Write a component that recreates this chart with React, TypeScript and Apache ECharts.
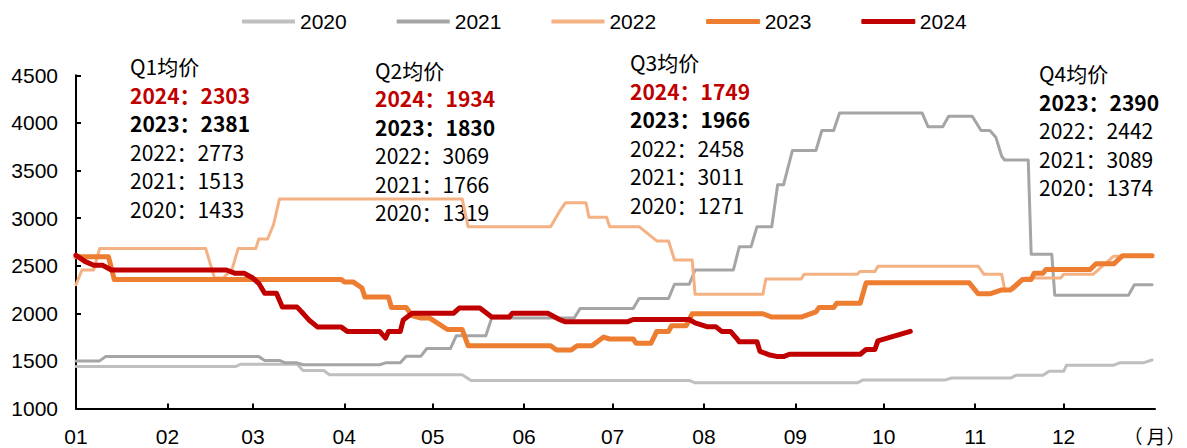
import React, { useEffect, useRef } from "react";
import * as echarts from "echarts";

// Day-of-year (leap-year calendar, 0 = Jan 1) at which each month starts
const MONTH_STARTS = [0, 31, 60, 91, 121, 152, 182, 213, 244, 274, 305, 335];
const MONTH_LABELS = ["01", "02", "03", "04", "05", "06", "07", "08", "09", "10", "11", "12"];
const YEAR_DAYS = 366;
const UNIT_CHARS = ["（", "月", "）"];

const YEARS = ["2020", "2021", "2022", "2023", "2024"];
const COLORS = ["#BFBFBF", "#A5A5A5", "#F4B183", "#ED7D31", "#C00000"];
const WIDTHS = [3, 3, 3, 5, 5];

// [day of year, price]
const s2020: [number, number][] = [
  [0, 1440], [54, 1440], [56, 1465], [75, 1465], [77, 1400], [84, 1400], [86, 1355], [131, 1355],
  [134, 1295], [208, 1295], [210, 1270], [265, 1270], [267, 1300], [295, 1300], [297, 1320],
  [317, 1320], [319, 1350], [328, 1350], [330, 1390], [335, 1390], [336, 1455], [352, 1455],
  [354, 1480], [362, 1480], [365, 1510],
];
const s2021: [number, number][] = [
  [0, 1500], [8, 1500], [10, 1545], [62, 1545], [64, 1505], [69, 1505], [71, 1480], [75, 1480],
  [77, 1460], [103, 1460], [105, 1480], [110, 1480], [112, 1550], [117, 1550], [119, 1630],
  [127, 1630], [129, 1765], [139, 1765], [141, 1950], [169, 1950], [171, 2050], [189, 2050],
  [191, 2155], [201, 2155], [203, 2305], [208, 2305], [210, 2455], [223, 2455], [225, 2700],
  [229, 2700], [231, 2910], [236, 2910], [238, 3350], [240, 3350], [243, 3710], [251, 3710],
  [253, 3920], [257, 3920], [259, 4105], [287, 4105], [289, 3960], [294, 3960], [296, 4070],
  [304, 4070], [307, 3920], [310, 3920], [312, 3850], [314, 3650], [315, 3610], [323, 3610],
  [324, 2620], [331, 2620], [332, 2190], [357, 2190], [359, 2300], [365, 2300],
];
const s2022: [number, number][] = [
  [0, 2300], [2, 2455], [6, 2455], [8, 2680], [44, 2680], [47, 2370], [50, 2370], [53, 2470],
  [55, 2680], [61, 2680], [62, 2780], [65, 2780], [67, 2930], [69, 3200], [131, 3200], [133, 2910],
  [161, 2910], [164, 3070], [166, 3160], [173, 3160], [174, 3010], [180, 3010], [181, 2910],
  [191, 2910], [195, 2810], [197, 2760], [201, 2760], [203, 2560], [209, 2560], [210, 2200],
  [233, 2200], [234, 2360], [246, 2360], [247, 2410], [265, 2410], [266, 2440], [271, 2440],
  [272, 2495], [306, 2495], [308, 2410], [314, 2410], [315, 2250], [318, 2250], [322, 2370],
  [334, 2370], [335, 2410], [345, 2410], [352, 2600], [365, 2600],
];
const s2023: [number, number][] = [
  [0, 2595], [11, 2595], [13, 2355], [90, 2355], [91, 2330], [94, 2330], [97, 2265], [98, 2170],
  [106, 2170], [107, 2060], [112, 2060], [114, 1975], [117, 1950], [120, 1950], [126, 1830],
  [131, 1830], [133, 1660], [161, 1660], [163, 1615], [168, 1615], [170, 1660], [175, 1660],
  [179, 1750], [181, 1730], [189, 1730], [190, 1685], [195, 1685], [197, 1810], [201, 1810],
  [202, 1870], [207, 1870], [209, 1995], [233, 1995], [236, 1960], [246, 1960], [251, 2015],
  [252, 2060], [257, 2060], [258, 2105], [266, 2105], [268, 2320], [303, 2320], [306, 2205],
  [310, 2205], [314, 2245], [317, 2245], [321, 2355], [324, 2355], [325, 2420], [328, 2420],
  [329, 2460], [344, 2460], [346, 2520], [352, 2520], [355, 2605], [365, 2605],
];
const s2024: [number, number][] = [
  [0, 2610], [3, 2545], [6, 2505], [9, 2505], [12, 2455], [51, 2455], [54, 2420], [57, 2420],
  [60, 2370], [62, 2315], [64, 2210], [68, 2210], [70, 2065], [75, 2065], [77, 2000], [79, 1930],
  [82, 1855], [90, 1855], [92, 1810], [103, 1810], [105, 1740], [106, 1810], [110, 1810],
  [111, 1930], [114, 2000], [128, 2000], [130, 2055], [137, 2055], [141, 1960], [147, 1960],
  [148, 2000], [160, 2000], [164, 1935], [166, 1910], [187, 1910], [189, 1935], [208, 1935],
  [210, 1900], [214, 1860], [217, 1860], [219, 1810], [222, 1810], [224, 1740], [225, 1700],
  [231, 1700], [232, 1600], [235, 1565], [238, 1545], [240, 1545], [242, 1570], [266, 1570],
  [268, 1620], [271, 1620], [272, 1710], [283, 1810],
];
const SERIES = [s2020, s2021, s2022, s2023, s2024];

// Quarterly average-price annotations
const Q_TITLES = ["Q1均价", "Q2均价", "Q3均价", "Q4均价"];
const Q1_AVG: [string, string][] = [["2024", "2303"], ["2023", "2381"], ["2022", "2773"], ["2021", "1513"], ["2020", "1433"]];
const Q2_AVG: [string, string][] = [["2024", "1934"], ["2023", "1830"], ["2022", "3069"], ["2021", "1766"], ["2020", "1319"]];
const Q3_AVG: [string, string][] = [["2024", "1749"], ["2023", "1966"], ["2022", "2458"], ["2021", "3011"], ["2020", "1271"]];
const Q4_AVG: [string, string][] = [["2023", "2390"], ["2022", "2442"], ["2021", "3089"], ["2020", "1374"]];
const Q_AVGS = [Q1_AVG, Q2_AVG, Q3_AVG, Q4_AVG];

const Y_MIN = 1000;
const Y_MAX = 4500;
const Y_STEP = 500;

const CJK = '"Noto Sans CJK SC", "Noto Sans", sans-serif';
const LATIN = '"Liberation Sans", Arial, sans-serif';

// block layout: left x, title center y, line step
const BLOCKS = [
  { x: 130, y: 66, step: 28.6 },
  { x: 375, y: 70, step: 28.4 },
  { x: 630, y: 62, step: 28.5 },
  { x: 1039, y: 73, step: 28.5 },
];
const UNIT_X = [1133, 1156, 1176];

export default function App() {
  const ref = useRef<HTMLDivElement>(null);
  useEffect(() => {
    document.body.style.margin = "0";
    if (!ref.current) return;
    const chart = echarts.init(ref.current, undefined, { renderer: "svg" });

    const graphics: any[] = [];
    BLOCKS.forEach((b, i) => {
      graphics.push({
        type: "text",
        x: b.x,
        y: b.y,
        style: {
          text: Q_TITLES[i],
          font: `21px ${CJK}`,
          fill: "#000",
          textAlign: "left",
          textVerticalAlign: "middle",
        },
      });
      Q_AVGS[i].forEach(([yr, v], j) => {
        const bold = yr === "2024" || yr === "2023";
        graphics.push({
          type: "text",
          x: b.x,
          y: b.y + b.step * (j + 1),
          style: {
            text: `${yr}：${v}`,
            font: `${bold ? "bold " : ""}21px ${CJK}`,
            fill: yr === "2024" ? "#C00000" : "#000",
            textAlign: "left",
            textVerticalAlign: "middle",
          },
        });
      });
    });
    UNIT_CHARS.forEach((ch, i) => {
      graphics.push({
        type: "text",
        x: UNIT_X[i],
        y: 435,
        style: {
          text: ch,
          font: `19px ${CJK}`,
          fill: "#000",
          textAlign: "center",
          textVerticalAlign: "middle",
        },
      });
    });

    chart.setOption({
      animation: false,
      legend: {
        top: 6,
        left: 237,
        itemWidth: 53,
        itemHeight: 4,
        itemGap: 50,
        icon: "rect",
        textStyle: { fontSize: 21, fontFamily: LATIN, color: "#000" },
        data: YEARS.map((name, i) => ({
          name,
          icon: "rect",
          itemStyle: {
            color: COLORS[i],
            borderColor: COLORS[i],
            borderWidth: WIDTHS[i] > 3 ? 1 : 0,
          },
        })),
      },
      grid: { left: 76, right: 32, top: 75.3, bottom: 39.5, containLabel: false },
      xAxis: {
        type: "value",
        min: 0,
        max: YEAR_DAYS,
        axisLine: { lineStyle: { color: "#000", width: 2 } },
        axisTick: {
          show: true,
          inside: true,
          length: 5,
          customValues: MONTH_STARTS.slice(1),
          lineStyle: { color: "#000", width: 2 },
        },
        axisLabel: {
          customValues: MONTH_STARTS,
          formatter: (v: number) => MONTH_LABELS[MONTH_STARTS.indexOf(v)] ?? "",
          fontSize: 21,
          fontFamily: LATIN,
          color: "#000",
          margin: 17,
        },
        splitLine: { show: false },
      },
      yAxis: {
        type: "value",
        min: Y_MIN,
        max: Y_MAX,
        interval: Y_STEP,
        axisLine: { show: true, lineStyle: { color: "#000", width: 2 } },
        axisTick: { show: true, inside: true, length: 5, lineStyle: { color: "#000", width: 2 } },
        axisLabel: {
          fontSize: 21,
          fontFamily: LATIN,
          color: "#000",
          margin: 18,
          formatter: (v: number) => String(v),
        },
        splitLine: { show: false },
      },
      series: YEARS.map((name, i) => ({
        name,
        type: "line",
        data: SERIES[i],
        symbol: "none",
        smooth: false,
        lineStyle: { color: COLORS[i], width: WIDTHS[i], cap: "round", join: "round" },
        itemStyle: { color: COLORS[i] },
        z: 2 + i,
      })),
      graphic: graphics,
    });
    return () => chart.dispose();
  }, []);
  return <div ref={ref} style={{ width: 1187, height: 448 }} />;
}
